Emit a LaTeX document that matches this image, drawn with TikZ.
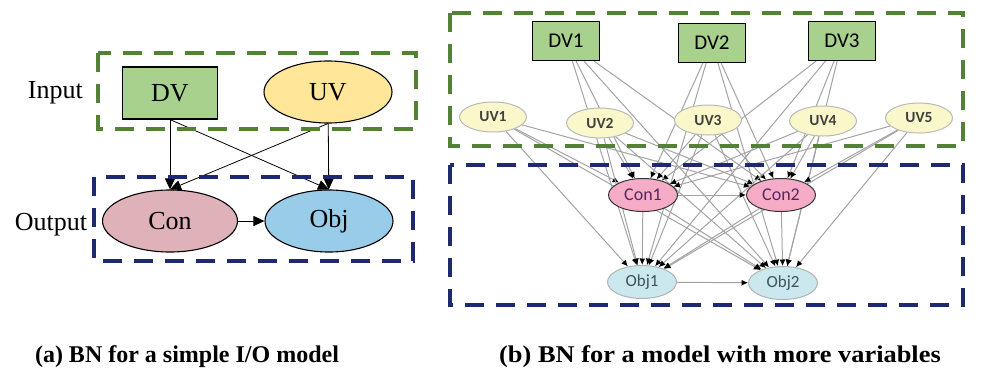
\documentclass[tikz,border=0pt]{standalone}
\usepackage{fontspec}
\setmainfont{Liberation Serif}
\newfontfamily\cali{Carlito}
\usetikzlibrary{positioning,arrows.meta,shapes.geometric,backgrounds}
\definecolor{dvgreen}{RGB}{169,209,142}
\definecolor{uvyellow}{RGB}{255,230,153}
\definecolor{conpink}{RGB}{223,177,185}
\definecolor{objblue}{RGB}{152,204,232}
\definecolor{ingreen}{RGB}{84,130,53}
\definecolor{outblue}{RGB}{31,42,110}
\definecolor{smyellow}{RGB}{250,248,202}
\definecolor{smpink}{RGB}{246,172,198}
\definecolor{smcyan}{RGB}{202,232,238}
\definecolor{contxt}{RGB}{85,40,95}
\definecolor{objtxt}{RGB}{60,82,92}
\tikzset{
  big/.style={font=\fontsize{26pt}{30pt}\selectfont, inner sep=0pt},
  dv/.style={big, draw, fill=dvgreen, line width=1.1pt, minimum width=95pt, minimum height=52pt},
  uv/.style={big, ellipse, draw, fill=uvyellow, line width=1.1pt, minimum width=128pt, minimum height=62pt},
  con/.style={big, ellipse, draw, fill=conpink, line width=1.1pt, minimum width=135pt, minimum height=62pt},
  obj/.style={big, ellipse, draw, fill=objblue, line width=1.1pt, minimum width=128pt, minimum height=62pt},
  sdv/.style={draw, fill=dvgreen, line width=1pt, minimum width=67pt, minimum height=39pt, inner sep=0pt, font=\cali\fontsize{21pt}{24pt}\selectfont},
  suv/.style={ellipse, draw=gray!55, fill=smyellow, line width=1pt, minimum width=67pt, minimum height=30pt, inner sep=0pt, text=black!75, font=\cali\bfseries\fontsize{15.5pt}{18pt}\selectfont},
  scon/.style={ellipse, draw=black!80, fill=smpink, line width=1pt, minimum width=69pt, minimum height=33pt, inner sep=0pt, text=contxt, font=\cali\fontsize{18pt}{20pt}\selectfont},
  sobj/.style={ellipse, draw=gray!60, fill=smcyan, line width=1pt, minimum width=69pt, minimum height=33pt, inner sep=0pt, text=objtxt, font=\cali\fontsize{17pt}{20pt}\selectfont},
  inbox/.style={draw=ingreen, line width=4pt, dash pattern=on 19pt off 12pt},
  outbox/.style={draw=outblue, line width=4pt, dash pattern=on 19pt off 12pt},
  captxt/.style={font=\bfseries\fontsize{24pt}{28pt}\selectfont, inner sep=0pt, anchor=base},
  la/.style={-{Triangle[length=11pt,width=10pt]}, line width=0.8pt},
  fl/.style={-{Latex[length=6.5pt,width=6pt,color=black]}, draw=gray!72, line width=1pt},
}
\begin{document}
\begin{tikzpicture}[x=1pt, y=-1pt]
\useasboundingbox (0,0) rectangle (990,368);
% (a) simple I/O model
\node[dv] (dv) at (170,93) {DV};
\node[uv] (uv) at (328,92) {UV};
\node[con] (con) at (170,221) {Con};
\node[obj] (obj) at (329,221) {Obj};
\node[big, left=39pt of dv] (inlab) {Input};
\node[big] (outlab) at (51,225) {Output};
\draw[la] (dv) -- (con);   \draw[la] (uv) -- (obj);
\draw[la] (dv.south) -- (obj.north);   \draw[la] (uv.south) -- (con.north);
\draw[la] (con) -- (obj);
\draw[inbox] (98,53) rectangle (416,129);
\draw[outbox] (94,177) rectangle (413,261);
% (b) more variables
\node[sdv] (dv1) at (566,41) {DV1};
\node[sdv] (dv2) at (712,43) {DV2};
\node[sdv] (dv3) at (842,41) {DV3};
\node[suv] (uv1) at (493,117) {UV1};
\node[suv] (uv2) at (600,123) {UV2};
\node[suv] (uv3) at (708,120) {UV3};
\node[suv] (uv4) at (823,121) {UV4};
\node[suv] (uv5) at (919,118) {UV5};
\node[scon] (con1) at (643,195) {Con1};
\node[scon] (con2) at (781,195) {Con2};
\node[sobj] (obj1) at (642,282) {Obj1};
\node[sobj] (obj2) at (783,283) {Obj2};
\begin{pgfonlayer}{background}
\draw[fl] (dv1) -- (con1);   \draw[fl] (dv1) -- (con2);   \draw[fl] (dv1) -- (obj1);   \draw[fl] (dv1) -- (obj2);
\draw[fl] (dv2) -- (con1);   \draw[fl] (dv2) -- (con2);   \draw[fl] (dv2) -- (obj1);   \draw[fl] (dv2) -- (obj2);
\draw[fl] (dv3) -- (con1);   \draw[fl] (dv3) -- (con2);   \draw[fl] (dv3) -- (obj1);   \draw[fl] (dv3) -- (obj2);
\draw[fl] (uv1) -- (con1);   \draw[fl] (uv1) -- (con2);   \draw[fl] (uv1) -- (obj1);   \draw[fl] (uv1) -- (obj2);
\draw[fl] (uv2) -- (con1);   \draw[fl] (uv2) -- (con2);   \draw[fl] (uv2) -- (obj1);   \draw[fl] (uv2) -- (obj2);
\draw[fl] (uv3) -- (con1);   \draw[fl] (uv3) -- (con2);   \draw[fl] (uv3) -- (obj1);   \draw[fl] (uv3) -- (obj2);
\draw[fl] (uv4) -- (con1);   \draw[fl] (uv4) -- (con2);   \draw[fl] (uv4) -- (obj1);   \draw[fl] (uv4) -- (obj2);
\draw[fl] (uv5) -- (con1);   \draw[fl] (uv5) -- (con2);   \draw[fl] (uv5) -- (obj1);   \draw[fl] (uv5) -- (obj2);
\draw[fl] (con1) -- (obj1);   \draw[fl] (con1) -- (obj2);   \draw[fl] (con2) -- (obj1);   \draw[fl] (con2) -- (obj2);
\draw[fl] (con1) -- (con2);   \draw[fl] (obj1) -- (obj2);
\end{pgfonlayer}
\draw[inbox] (450,13) rectangle (963,146);
\draw[outbox] (450,165) rectangle (963,305);
% captions
\node[captxt] (capa) at (187,362) {(a) BN for a simple I/O model};
\node[captxt] (capb) at (720,362) {\scalebox{1.1}[1]{(b) BN for a model with more variables}};
\end{tikzpicture}
\end{document}
